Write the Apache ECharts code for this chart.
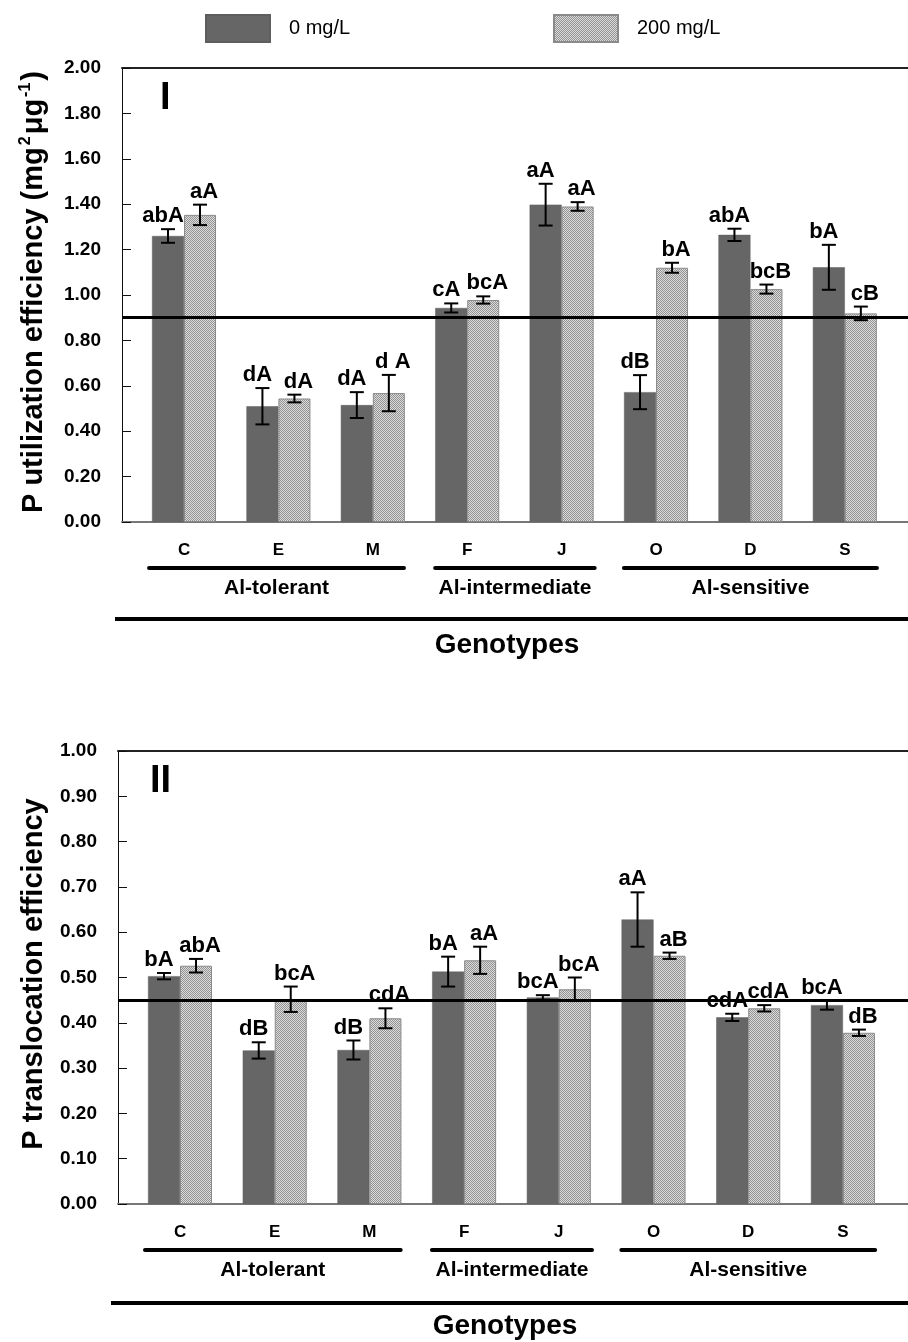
<!DOCTYPE html>
<html>
<head>
<meta charset="utf-8">
<script src="https://cdn.jsdelivr.net/npm/echarts@6/dist/echarts.min.js"></script>
<style>
  html, body { margin: 0; padding: 0; background: #ffffff; }
  #chart { width: 908px; height: 1342px; }
</style>
</head>
<body>
<div id="chart"></div>
<script>
// Genotypes, grouped by aluminium tolerance
const genotypes = ['C', 'E', 'M', 'F', 'J', 'O', 'D', 'S'];
const groupNames = ['Al-tolerant', 'Al-intermediate', 'Al-sensitive'];
const groupSpans = [[-0.37, 2.33], [2.66, 4.35], [4.66, 7.34]];
const seriesNames = ['0 mg/L', '200 mg/L'];

// Panel I: P utilization efficiency (mean, SE, letters)
const pue0 = [1.26, 0.51, 0.515, 0.943, 1.398, 0.572, 1.265, 1.122];
const pue0Err = [0.03, 0.08, 0.057, 0.02, 0.092, 0.075, 0.027, 0.099];
const pue0Lab = ['abA', 'dA', 'dA', 'cA', 'aA', 'dB', 'abA', 'bA'];
const pue200 = [1.353, 0.544, 0.568, 0.978, 1.39, 1.12, 1.026, 0.919];
const pue200Err = [0.045, 0.017, 0.08, 0.016, 0.019, 0.022, 0.02, 0.03];
const pue200Lab = ['aA', 'dA', 'd A', 'bcA', 'aA', 'bA', 'bcB', 'cB'];
const pueRef = 0.90;

// Panel II: P translocation efficiency (mean, SE, letters)
const pte0 = [0.503, 0.339, 0.340, 0.513, 0.456, 0.628, 0.412, 0.439];
const pte0Err = [0.007, 0.018, 0.021, 0.033, 0.005, 0.06, 0.008, 0.01];
const pte0Lab = ['bA', 'dB', 'dB', 'bA', 'bcA', 'aA', 'cdA', 'bcA'];
const pte200 = [0.526, 0.452, 0.410, 0.538, 0.474, 0.548, 0.432, 0.378];
const pte200Err = [0.015, 0.028, 0.022, 0.03, 0.026, 0.007, 0.007, 0.007];
const pte200Lab = ['abA', 'bcA', 'cdA', 'aA', 'bcA', 'aB', 'cdA', 'dB'];
const pteRef = 0.45;

const FONT = 'Liberation Sans, Arial, sans-serif';
const BAR_W = 32;

// fine dotted fill for the 200 mg/L bars
function dotPattern() {
  const c = document.createElement('canvas');
  c.width = 4; c.height = 4;
  const g = c.getContext('2d');
  g.fillStyle = '#dcdcdc';
  g.fillRect(0, 0, 4, 4);
  g.fillStyle = '#929292';
  for (let y = 0; y < 4; y++) {
    for (let x = 0; x < 4; x++) {
      if ((x + y) % 2 === 0) g.fillRect(x, y, 1, 1);
    }
  }
  return c;
}
const lightFill = { image: dotPattern(), repeat: 'repeat' };

const toPairs = arr => arr.map((v, i) => [i, v]);

// each panel owns two x axes (bottom + top frame line) and one y axis
function axisRefs(panel) {
  return { xAxisIndex: panel * 2, yAxisIndex: panel };
}

function barSeries(name, values, panel, dark) {
  return Object.assign({
    type: 'bar', name: name,
    data: toPairs(values),
    barWidth: BAR_W, barGap: '0%',
    itemStyle: dark
      ? { color: '#666666', borderColor: '#5e5e5e', borderWidth: 0.5 }
      : { color: lightFill, borderColor: '#8a8a8a', borderWidth: 1 },
    emphasis: { disabled: true },
    z: 2
  }, axisRefs(panel));
}

// error bars with significance letters above them
function errorSeries(values, errs, labels, panel, side) {
  // letters of a pair are pushed slightly apart so they do not collide
  const labelNudge = side < 0 ? -5 : 4;
  return Object.assign({
    type: 'custom',
    data: values.map((v, i) => [i, v, errs[i]]),
    z: 6, silent: true,
    renderItem: function (params, api) {
      const x = api.value(0), v = api.value(1), e = api.value(2);
      const cx = api.coord([x, v])[0] + side * BAR_W / 2;
      const yt = api.coord([x, v + e])[1];
      const yb = api.coord([x, v - e])[1];
      const cap = 7;
      const st = { stroke: '#000', lineWidth: 2 };
      return {
        type: 'group',
        children: [
          { type: 'line', shape: { x1: cx, y1: yt, x2: cx, y2: yb }, style: st },
          { type: 'line', shape: { x1: cx - cap, y1: yt, x2: cx + cap, y2: yt }, style: st },
          { type: 'line', shape: { x1: cx - cap, y1: yb, x2: cx + cap, y2: yb }, style: st },
          {
            type: 'text', x: cx + labelNudge, y: yt - 2,
            style: {
              text: labels[params.dataIndex], fill: '#000',
              font: 'bold 22px ' + FONT, align: 'center', verticalAlign: 'bottom'
            }
          }
        ]
      };
    }
  }, axisRefs(panel));
}

// tolerance-group underlines and names beneath the genotype labels
function groupSeries(panel) {
  return Object.assign({
    type: 'custom',
    data: groupSpans.map((s, i) => [s[0], s[1], i]),
    silent: true, z: 3, clip: false,
    renderItem: function (params, api) {
      const p1 = api.coord([api.value(0), 0]);
      const p2 = api.coord([api.value(1), 0]);
      const y = p1[1] + 46;
      return {
        type: 'group',
        children: [
          {
            type: 'line', shape: { x1: p1[0], y1: y, x2: p2[0], y2: y },
            style: { stroke: '#000', lineWidth: 4, lineCap: 'round' }
          },
          {
            type: 'text', x: (p1[0] + p2[0]) / 2, y: y + 20,
            style: {
              text: groupNames[api.value(2)], fill: '#000',
              font: 'bold 21px ' + FONT, align: 'center', verticalAlign: 'middle'
            }
          }
        ]
      };
    }
  }, axisRefs(panel));
}

function refLine(value) {
  return {
    silent: true, symbol: 'none',
    label: { show: false },
    lineStyle: { color: '#000', width: 3, type: 'solid' },
    data: [{ yAxis: value }],
    z: 5
  };
}

function xAxes(grid, min, max) {
  return [
    {
      type: 'value', gridIndex: grid, min: min, max: max, position: 'bottom',
      axisLine: { show: true, onZero: false, lineStyle: { color: '#777', width: 2 } },
      axisTick: { show: false },
      splitLine: { show: false },
      axisLabel: {
        customValues: genotypes.map((g, i) => i),
        formatter: v => genotypes[Math.round(v)],
        margin: 20, color: '#000', fontFamily: FONT, fontWeight: 'bold', fontSize: 17
      }
    },
    {
      type: 'value', gridIndex: grid, min: min, max: max, position: 'top',
      axisLine: { show: true, onZero: false, lineStyle: { color: '#222', width: 2 } },
      axisTick: { show: false }, axisLabel: { show: false }, splitLine: { show: false }
    }
  ];
}

function yAxis(grid, max, interval) {
  return {
    type: 'value', gridIndex: grid, min: 0, max: max, interval: interval,
    axisLine: { show: true, onZero: false, lineStyle: { color: '#111', width: 1 } },
    axisTick: { show: true, inside: true, length: 9, lineStyle: { color: '#111', width: 1 } },
    splitLine: { show: false },
    axisLabel: {
      formatter: v => v.toFixed(2), margin: 21,
      color: '#000', fontFamily: FONT, fontWeight: 'bold', fontSize: 19
    }
  };
}

const chart = echarts.init(document.getElementById('chart'), null, { renderer: 'canvas' });

const bar0a = barSeries(seriesNames[0], pue0, 0, true);
const bar0b = barSeries(seriesNames[1], pue200, 0, false);
bar0b.markLine = refLine(pueRef);
const bar1a = barSeries(seriesNames[0], pte0, 1, true);
const bar1b = barSeries(seriesNames[1], pte200, 1, false);
bar1b.markLine = refLine(pteRef);

function legendFor(name, left) {
  return {
    data: [{ name: name, icon: 'rect' }], left: left, top: 9,
    itemWidth: 64, itemHeight: 27, selectedMode: false,
    textStyle: { fontSize: 20, color: '#000', fontFamily: FONT, padding: [0, 0, 0, 14] }
  };
}

chart.setOption({
  animation: false,
  backgroundColor: '#ffffff',
  textStyle: { fontFamily: FONT },
  legend: [legendFor(seriesNames[0], 200), legendFor(seriesNames[1], 548)],
  grid: [
    { left: 122, top: 68, height: 454, right: 0 },
    { left: 118, top: 751, height: 453, right: 0 }
  ],
  xAxis: xAxes(0, -0.657, 7.669).concat(xAxes(1, -0.655, 7.687)),
  yAxis: [yAxis(0, 2, 0.2), yAxis(1, 1, 0.1)],
  series: [
    bar0a, bar0b, bar1a, bar1b,
    errorSeries(pue0, pue0Err, pue0Lab, 0, -1),
    errorSeries(pue200, pue200Err, pue200Lab, 0, 1),
    errorSeries(pte0, pte0Err, pte0Lab, 1, -1),
    errorSeries(pte200, pte200Err, pte200Lab, 1, 1),
    groupSeries(0), groupSeries(1)
  ],
  graphic: [
    { type: 'text', left: 160, top: 80, style: { text: 'I', font: 'bold 38px ' + FONT, fill: '#000' } },
    { type: 'text', left: 150, top: 763, style: { text: 'II', font: 'bold 38px ' + FONT, fill: '#000' } },
    {
      type: 'text', x: 34, y: 292, rotation: Math.PI / 2,
      style: {
        text: 'P utilization efficiency (mg{sup|2}μg{sup|-1})',
        font: 'bold 29px ' + FONT, fill: '#000', align: 'center', verticalAlign: 'middle',
        rich: { sup: { font: 'bold 16px ' + FONT, fill: '#000', padding: [0, 2, 16, 2] } }
      }
    },
    {
      type: 'text', x: 34, y: 974, rotation: Math.PI / 2,
      style: {
        text: 'P translocation efficiency',
        font: 'bold 29px ' + FONT, fill: '#000', align: 'center', verticalAlign: 'middle'
      }
    },
    { type: 'line', shape: { x1: 115, y1: 619, x2: 908, y2: 619 }, style: { stroke: '#000', lineWidth: 4 } },
    { type: 'line', shape: { x1: 111, y1: 1303, x2: 908, y2: 1303 }, style: { stroke: '#000', lineWidth: 4 } },
    {
      type: 'text', x: 507, y: 645,
      style: { text: 'Genotypes', font: 'bold 28px ' + FONT, fill: '#000', align: 'center', verticalAlign: 'middle' }
    },
    {
      type: 'text', x: 505, y: 1326,
      style: { text: 'Genotypes', font: 'bold 28px ' + FONT, fill: '#000', align: 'center', verticalAlign: 'middle' }
    }
  ]
});
</script>
</body>
</html>
